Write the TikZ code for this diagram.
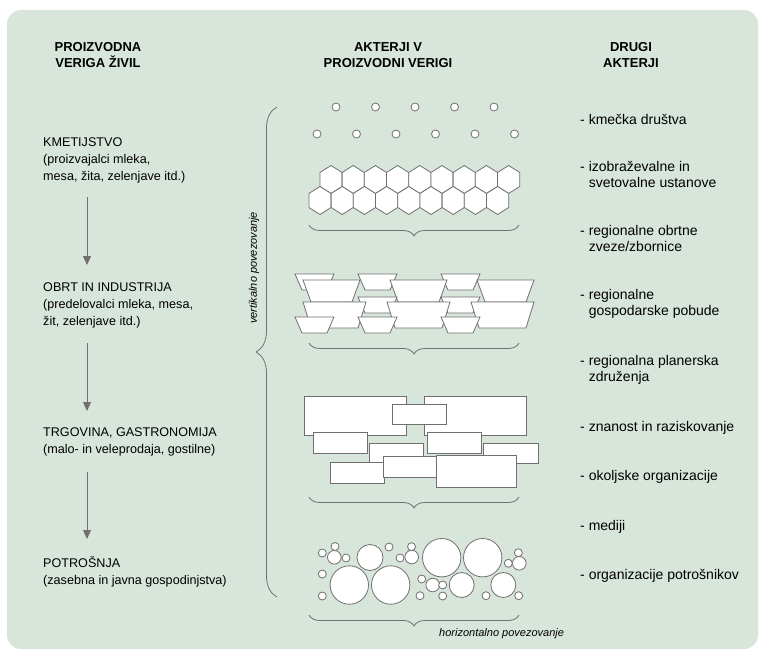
\documentclass[tikz,border=0pt]{standalone}
\usepackage{fontspec}
\setmainfont{Liberation Sans}
\usetikzlibrary{arrows.meta,decorations.pathreplacing,positioning}
\definecolor{panel}{RGB}{216,229,219}
\definecolor{ink}{RGB}{112,112,112}

\begin{document}
\begin{tikzpicture}[x=1pt,y=-1pt,
    every node/.style={inner sep=0pt},
    head/.style={font=\fontsize{13}{16}\selectfont\bfseries,align=center,anchor=north},
    stage/.style={font=\fontsize{12.6}{17}\selectfont,align=left,anchor=north west},
    other/.style={font=\fontsize{14}{16}\selectfont,align=left,anchor=north west},
    note/.style={font=\fontsize{11}{13}\selectfont\itshape},
    flow/.style={draw=ink,line width=1pt,-{Triangle[width=8pt,length=9pt]}},
    piece/.style={draw=ink,fill=white,line width=0.8pt},
    curly/.style={draw=ink,line width=0.8pt,decorate,decoration={brace,amplitude=#1}}]
        % the panel
        \useasboundingbox (0,0) rectangle (759,652);
        \fill[panel,rounded corners=14pt] (7,10) rectangle (758,649);
        %% the headers
        \node[head] (hchain) at (98,42.5) {PROIZVODNA\\VERIGA ŽIVIL};
        \node[head] (hactors) at (388,42.5) {AKTERJI V\\PROIZVODNI VERIGI};
        \node[head] (hother) at (631,42.5) {DRUGI\\AKTERJI};
        %% the chain
        \node[stage] (kmet) at (43,137.5) {KMETIJSTVO\\(proizvajalci mleka,\\mesa, žita, zelenjave itd.)};
        \node[stage] (obrt) at (43,282.5) {OBRT IN INDUSTRIJA\\(predelovalci mleka, mesa,\\žit, zelenjave itd.)};
        \node[stage] (trg) at (43,427.5) {TRGOVINA, GASTRONOMIJA\\(malo- in veleprodaja, gostilne)};
        \node[stage] (potr) at (43,556) {POTROŠNJA\\(zasebna in javna gospodinjstva)};
        \draw[flow] ([xshift=44pt,yshift=-14pt]kmet.south west) -- ([xshift=44pt,yshift=17.5pt]obrt.north west);
        \draw[flow] ([xshift=44pt,yshift=-15pt]obrt.south west) -- ([xshift=44pt,yshift=16.5pt]trg.north west);
        \draw[flow] ([xshift=44pt,yshift=-16pt]trg.south west) -- ([xshift=44pt,yshift=17pt]potr.north west);
        %% the other actors
        \node[other] (o1) at (580,114.5) {- kmečka društva};
        \node[other] (o2) at (580,161.5) {- izobraževalne in\\\hphantom{- }svetovalne ustanove};
        \node[other] (o3) at (580,225.5) {- regionalne obrtne\\\hphantom{- }zveze/zbornice};
        \node[other] (o4) at (580,289.5) {- regionalne\\\hphantom{- }gospodarske pobude};
        \node[other] (o5) at (580,355.5) {- regionalna planerska\\\hphantom{- }združenja};
        \node[other] (o6) at (580,421.5) {- znanost in raziskovanje};
        \node[other] (o7) at (580,470.5) {- okoljske organizacije};
        \node[other] (o8) at (580,520.5) {- mediji};
        \node[other] (o9) at (580,569.5) {- organizacije potrošnikov};
        %% loose dots
        \foreach \c in {0,...,4}
          \draw[piece] (336+39.5*\c,107) circle (4);
        \foreach \c in {0,...,5}
          \draw[piece] (317+39.5*\c,134) circle (4);
        %% honeycomb (11.1 half width, 14 half height)
        \foreach \c in {0,...,8}
        {
          \draw[piece] (331+22.2*\c,179.5) +(0,-14) -- +(11.1,-7) -- +(11.1,7) -- +(0,14) -- +(-11.1,7) -- +(-11.1,-7) -- cycle;
          \draw[piece] (320+22.2*\c,200.5) +(0,-14) -- +(11.1,-7) -- +(11.1,7) -- +(0,14) -- +(-11.1,7) -- +(-11.1,-7) -- cycle;
        }
        %% trapezoids, x/y/width/slant/height
        \foreach \x/\y/\w/\s/\h in {295/274/39/7/16, 358/274/39/7/16, 441/274/39/7/16,
                                   303/280/57/8/22, 390/280/57/8/22, 477/280/57/8/22,
                                   358/297/39/7/16, 441/297/39/7/16,
                                   303/302/63/8/26, 387/302/63/8/26, 471/302/63/8/26,
                                   295/317/39/7/16, 358/317/39/7/16, 441/317/39/7/16}
          \draw[piece] (\x,\y) -- ++(\w,0) -- ++(-\s,\h) -- ++({-\w+2*\s},0) -- cycle;
        %% boxes
        \foreach \a/\b/\c/\d in {304/396/406/435, 424/396/526/435, 392/404/446/424,
                                 313/432/367/453, 427/432/481/453, 369/443/423/463,
                                 483/443/538/463, 330/462/384/483, 383/456/437/477,
                                 436/455/516/487}
          \draw[piece] (\a,\b) rectangle (\c,\d);
        %% bubbles
        \foreach \x/\y/\r in {349.3/585/19.2, 390.7/585/19.2, 441.7/557.7/19.2, 482.7/557.7/19.2,
                              370/557.5/13, 461.7/585/12.5, 503.3/585/12.5,
                              334.3/557.3/6.8, 411.7/557/6.8, 432.7/585/6.8, 519.3/563.3/6.8,
                              322.3/553/4, 335/546.5/4, 346/558/4, 322.3/574/4, 322.3/596/4,
                              389/547/4, 400/558/4, 411.5/546.7/4, 421.7/579/4, 442.7/585/4,
                              420/595.7/4, 442.7/596/4, 508.3/563.3/4, 518.3/552.7/4,
                              486/595.7/4, 518.7/595.7/4}
          \draw[piece] (\x,\y) circle (\r);
        %% braces
        \draw[curly=21] (277,597) -- (277,107);
        \foreach \e in {225,343,497,615}
          \draw[curly=11] (519,\e) -- (309,\e);
        \node[note,rotate=90] (vert) at (254,268) {vertikalno povezovanje};
        \node[note,anchor=west] (horiz) at (439,634) {horizontalno povezovanje};
      \end{tikzpicture}
\end{document}
